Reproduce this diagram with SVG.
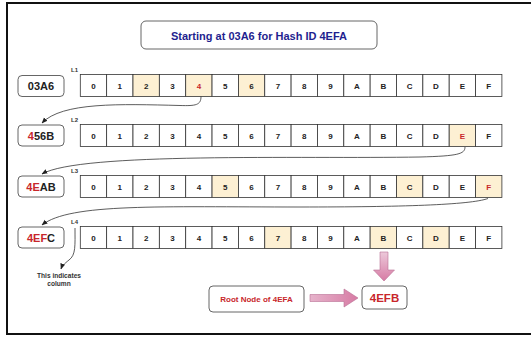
<svg xmlns="http://www.w3.org/2000/svg" width="531" height="341" viewBox="0 0 531 341">
<defs>
<style>
.cell{fill:#ffffff;stroke:#333333;stroke-width:0.8}
.hl{fill:#fdf0d3}
.ct{font-family:"Liberation Sans",Arial,sans-serif;font-weight:bold;font-size:8px;fill:#222;text-anchor:middle}
.red{fill:#c8262b}
.box{fill:#fff;stroke:#555;stroke-width:0.9}
.bt{font-family:"Liberation Sans",Arial,sans-serif;font-weight:bold;font-size:11px;fill:#222;text-anchor:middle}
.lbl{font-family:"Liberation Sans",Arial,sans-serif;font-weight:bold;font-size:6px;fill:#333}
.note{font-family:"Liberation Sans",Arial,sans-serif;font-weight:bold;font-size:6.6px;fill:#333;text-anchor:middle}
.conn{fill:none;stroke:#333;stroke-width:0.8}
.pink{fill:url(#pg);stroke:#b86f94;stroke-width:0.6}
</style>
<linearGradient id="pg" x1="0" y1="0" x2="0" y2="1">
<stop offset="0" stop-color="#ecc9da"/>
<stop offset="1" stop-color="#d77ba4"/>
</linearGradient>
<linearGradient id="pgh" x1="0" y1="0" x2="1" y2="0">
<stop offset="0" stop-color="#e6b3cb"/>
<stop offset="1" stop-color="#d77ba4"/>
</linearGradient>
<marker id="ah" viewBox="0 0 10 10" refX="9" refY="5" markerWidth="6" markerHeight="6" orient="auto" markerUnits="userSpaceOnUse">
<path d="M0,1 L10,5 L0,9 z" fill="#222"/>
</marker>
</defs>
<rect x="7" y="3" width="530" height="331" fill="#fff" stroke="#111" stroke-width="2"/>

<g id="title">
<rect x="141" y="21" width="236" height="28" rx="5" class="box"/>
<text x="259" y="40" font-family="Liberation Sans, Arial, sans-serif" font-weight="bold" font-size="11" fill="#1f1f8f" text-anchor="middle">Starting at 03A6 for Hash ID 4EFA</text>
</g>

<g id="node-03A6">
<rect x="18" y="75.5" width="46" height="21" rx="4" class="box"/>
<text x="41" y="90" class="bt">03A6</text>
</g>
<g id="node-456B">
<rect x="18" y="125" width="46" height="21" rx="4" class="box"/>
<text x="41" y="139.5" class="bt"><tspan class="red">4</tspan>56B</text>
</g>
<g id="node-4EAB">
<rect x="18" y="176" width="46" height="21" rx="4" class="box"/>
<text x="41" y="190.5" class="bt"><tspan class="red">4E</tspan>AB</text>
</g>
<g id="node-4EFC">
<rect x="18" y="227" width="46" height="21" rx="4" class="box"/>
<text x="41" y="241.5" class="bt"><tspan class="red">4EF</tspan>C</text>
</g>

<g id="row-L1">
<text x="71" y="72" class="lbl">L1</text>
<rect x="80.3" y="74.5" width="26.35" height="22" class="cell"/><text x="93.5" y="88.5" class="ct">0</text>
<rect x="106.65" y="74.5" width="26.35" height="22" class="cell"/><text x="119.8" y="88.5" class="ct">1</text>
<rect x="133" y="74.5" width="26.35" height="22" class="cell hl"/><text x="146.2" y="88.5" class="ct">2</text>
<rect x="159.35" y="74.5" width="26.35" height="22" class="cell"/><text x="172.5" y="88.5" class="ct">3</text>
<rect x="185.7" y="74.5" width="26.35" height="22" class="cell hl"/><text x="198.9" y="88.5" class="ct red">4</text>
<rect x="212.05" y="74.5" width="26.35" height="22" class="cell"/><text x="225.2" y="88.5" class="ct">5</text>
<rect x="238.4" y="74.5" width="26.35" height="22" class="cell hl"/><text x="251.6" y="88.5" class="ct">6</text>
<rect x="264.75" y="74.5" width="26.35" height="22" class="cell"/><text x="277.9" y="88.5" class="ct">7</text>
<rect x="291.1" y="74.5" width="26.35" height="22" class="cell"/><text x="304.3" y="88.5" class="ct">8</text>
<rect x="317.45" y="74.5" width="26.35" height="22" class="cell"/><text x="330.6" y="88.5" class="ct">9</text>
<rect x="343.8" y="74.5" width="26.35" height="22" class="cell"/><text x="357" y="88.5" class="ct">A</text>
<rect x="370.15" y="74.5" width="26.35" height="22" class="cell"/><text x="383.3" y="88.5" class="ct">B</text>
<rect x="396.5" y="74.5" width="26.35" height="22" class="cell"/><text x="409.7" y="88.5" class="ct">C</text>
<rect x="422.85" y="74.5" width="26.35" height="22" class="cell"/><text x="436" y="88.5" class="ct">D</text>
<rect x="449.2" y="74.5" width="26.35" height="22" class="cell"/><text x="462.4" y="88.5" class="ct">E</text>
<rect x="475.55" y="74.5" width="26.35" height="22" class="cell"/><text x="488.7" y="88.5" class="ct">F</text>
</g>

<g id="row-L2">
<text x="71" y="122" class="lbl">L2</text>
<rect x="80.3" y="124.5" width="26.35" height="22" class="cell"/><text x="93.5" y="138.5" class="ct">0</text>
<rect x="106.65" y="124.5" width="26.35" height="22" class="cell"/><text x="119.8" y="138.5" class="ct">1</text>
<rect x="133" y="124.5" width="26.35" height="22" class="cell"/><text x="146.2" y="138.5" class="ct">2</text>
<rect x="159.35" y="124.5" width="26.35" height="22" class="cell"/><text x="172.5" y="138.5" class="ct">3</text>
<rect x="185.7" y="124.5" width="26.35" height="22" class="cell"/><text x="198.9" y="138.5" class="ct">4</text>
<rect x="212.05" y="124.5" width="26.35" height="22" class="cell"/><text x="225.2" y="138.5" class="ct">5</text>
<rect x="238.4" y="124.5" width="26.35" height="22" class="cell"/><text x="251.6" y="138.5" class="ct">6</text>
<rect x="264.75" y="124.5" width="26.35" height="22" class="cell"/><text x="277.9" y="138.5" class="ct">7</text>
<rect x="291.1" y="124.5" width="26.35" height="22" class="cell"/><text x="304.3" y="138.5" class="ct">8</text>
<rect x="317.45" y="124.5" width="26.35" height="22" class="cell"/><text x="330.6" y="138.5" class="ct">9</text>
<rect x="343.8" y="124.5" width="26.35" height="22" class="cell"/><text x="357" y="138.5" class="ct">A</text>
<rect x="370.15" y="124.5" width="26.35" height="22" class="cell"/><text x="383.3" y="138.5" class="ct">B</text>
<rect x="396.5" y="124.5" width="26.35" height="22" class="cell"/><text x="409.7" y="138.5" class="ct">C</text>
<rect x="422.85" y="124.5" width="26.35" height="22" class="cell"/><text x="436" y="138.5" class="ct">D</text>
<rect x="449.2" y="124.5" width="26.35" height="22" class="cell hl"/><text x="462.4" y="138.5" class="ct red">E</text>
<rect x="475.55" y="124.5" width="26.35" height="22" class="cell"/><text x="488.7" y="138.5" class="ct">F</text>
</g>

<g id="row-L3">
<text x="71" y="173" class="lbl">L3</text>
<rect x="80.3" y="175.5" width="26.35" height="22" class="cell"/><text x="93.5" y="189.5" class="ct">0</text>
<rect x="106.65" y="175.5" width="26.35" height="22" class="cell"/><text x="119.8" y="189.5" class="ct">1</text>
<rect x="133" y="175.5" width="26.35" height="22" class="cell"/><text x="146.2" y="189.5" class="ct">2</text>
<rect x="159.35" y="175.5" width="26.35" height="22" class="cell"/><text x="172.5" y="189.5" class="ct">3</text>
<rect x="185.7" y="175.5" width="26.35" height="22" class="cell"/><text x="198.9" y="189.5" class="ct">4</text>
<rect x="212.05" y="175.5" width="26.35" height="22" class="cell hl"/><text x="225.2" y="189.5" class="ct">5</text>
<rect x="238.4" y="175.5" width="26.35" height="22" class="cell"/><text x="251.6" y="189.5" class="ct">6</text>
<rect x="264.75" y="175.5" width="26.35" height="22" class="cell"/><text x="277.9" y="189.5" class="ct">7</text>
<rect x="291.1" y="175.5" width="26.35" height="22" class="cell"/><text x="304.3" y="189.5" class="ct">8</text>
<rect x="317.45" y="175.5" width="26.35" height="22" class="cell"/><text x="330.6" y="189.5" class="ct">9</text>
<rect x="343.8" y="175.5" width="26.35" height="22" class="cell"/><text x="357" y="189.5" class="ct">A</text>
<rect x="370.15" y="175.5" width="26.35" height="22" class="cell"/><text x="383.3" y="189.5" class="ct">B</text>
<rect x="396.5" y="175.5" width="26.35" height="22" class="cell hl"/><text x="409.7" y="189.5" class="ct">C</text>
<rect x="422.85" y="175.5" width="26.35" height="22" class="cell"/><text x="436" y="189.5" class="ct">D</text>
<rect x="449.2" y="175.5" width="26.35" height="22" class="cell"/><text x="462.4" y="189.5" class="ct">E</text>
<rect x="475.55" y="175.5" width="26.35" height="22" class="cell hl"/><text x="488.7" y="189.5" class="ct red">F</text>
</g>

<g id="row-L4">
<text x="71" y="224" class="lbl">L4</text>
<rect x="80.3" y="226.5" width="26.35" height="22" class="cell"/><text x="93.5" y="240.5" class="ct">0</text>
<rect x="106.65" y="226.5" width="26.35" height="22" class="cell"/><text x="119.8" y="240.5" class="ct">1</text>
<rect x="133" y="226.5" width="26.35" height="22" class="cell"/><text x="146.2" y="240.5" class="ct">2</text>
<rect x="159.35" y="226.5" width="26.35" height="22" class="cell"/><text x="172.5" y="240.5" class="ct">3</text>
<rect x="185.7" y="226.5" width="26.35" height="22" class="cell"/><text x="198.9" y="240.5" class="ct">4</text>
<rect x="212.05" y="226.5" width="26.35" height="22" class="cell"/><text x="225.2" y="240.5" class="ct">5</text>
<rect x="238.4" y="226.5" width="26.35" height="22" class="cell"/><text x="251.6" y="240.5" class="ct">6</text>
<rect x="264.75" y="226.5" width="26.35" height="22" class="cell hl"/><text x="277.9" y="240.5" class="ct">7</text>
<rect x="291.1" y="226.5" width="26.35" height="22" class="cell"/><text x="304.3" y="240.5" class="ct">8</text>
<rect x="317.45" y="226.5" width="26.35" height="22" class="cell"/><text x="330.6" y="240.5" class="ct">9</text>
<rect x="343.8" y="226.5" width="26.35" height="22" class="cell"/><text x="357" y="240.5" class="ct">A</text>
<rect x="370.15" y="226.5" width="26.35" height="22" class="cell hl"/><text x="383.3" y="240.5" class="ct">B</text>
<rect x="396.5" y="226.5" width="26.35" height="22" class="cell"/><text x="409.7" y="240.5" class="ct">C</text>
<rect x="422.85" y="226.5" width="26.35" height="22" class="cell hl"/><text x="436" y="240.5" class="ct">D</text>
<rect x="449.2" y="226.5" width="26.35" height="22" class="cell"/><text x="462.4" y="240.5" class="ct">E</text>
<rect x="475.55" y="226.5" width="26.35" height="22" class="cell"/><text x="488.7" y="240.5" class="ct">F</text>
</g>

<g id="note">
<text x="59" y="278" class="note">This indicates</text>
<text x="59" y="286" class="note">column</text>
</g>

<g id="node-root">
<rect x="209" y="286" width="95" height="26" rx="4" class="box"/>
<text x="256.5" y="302" font-family="Liberation Sans, Arial, sans-serif" font-weight="bold" font-size="8" fill="#c8262b" text-anchor="middle">Root Node of 4EFA</text>
</g>
<g id="node-4EFB">
<rect x="362" y="286" width="45" height="23" rx="4" class="box"/>
<text x="384.5" y="301.5" font-family="Liberation Sans, Arial, sans-serif" font-weight="bold" font-size="11.5" fill="#c8262b" text-anchor="middle">4EFB</text>
</g>

<g id="connectors">
<path class="conn" d="M201,96.5 C201,105 196,106 180,105.5 C120,104 62,102 42,123" marker-end="url(#ah)"/>
<path class="conn" d="M465,147 C465,154 458,156 420,157 C300,159 80,152 42,174" marker-end="url(#ah)"/>
<path class="conn" d="M488,198.5 C470,205 400,207 300,207 C160,207 70,203 42,225" marker-end="url(#ah)"/>
<path class="conn" d="M75,228 C75,245 76,255 69,260 C64,264 62,266 61,269" marker-end="url(#ah)"/>
<path class="pink" d="M380,252 L388,252 L388,270 L394.5,270 L384,281 L373.5,270 L380,270 Z"/>
<path class="pink" style="fill:url(#pgh)" d="M310,294.5 L344,294.5 L344,289 L358,298 L344,307 L344,301.5 L310,301.5 Z"/>
</g>
</svg>
